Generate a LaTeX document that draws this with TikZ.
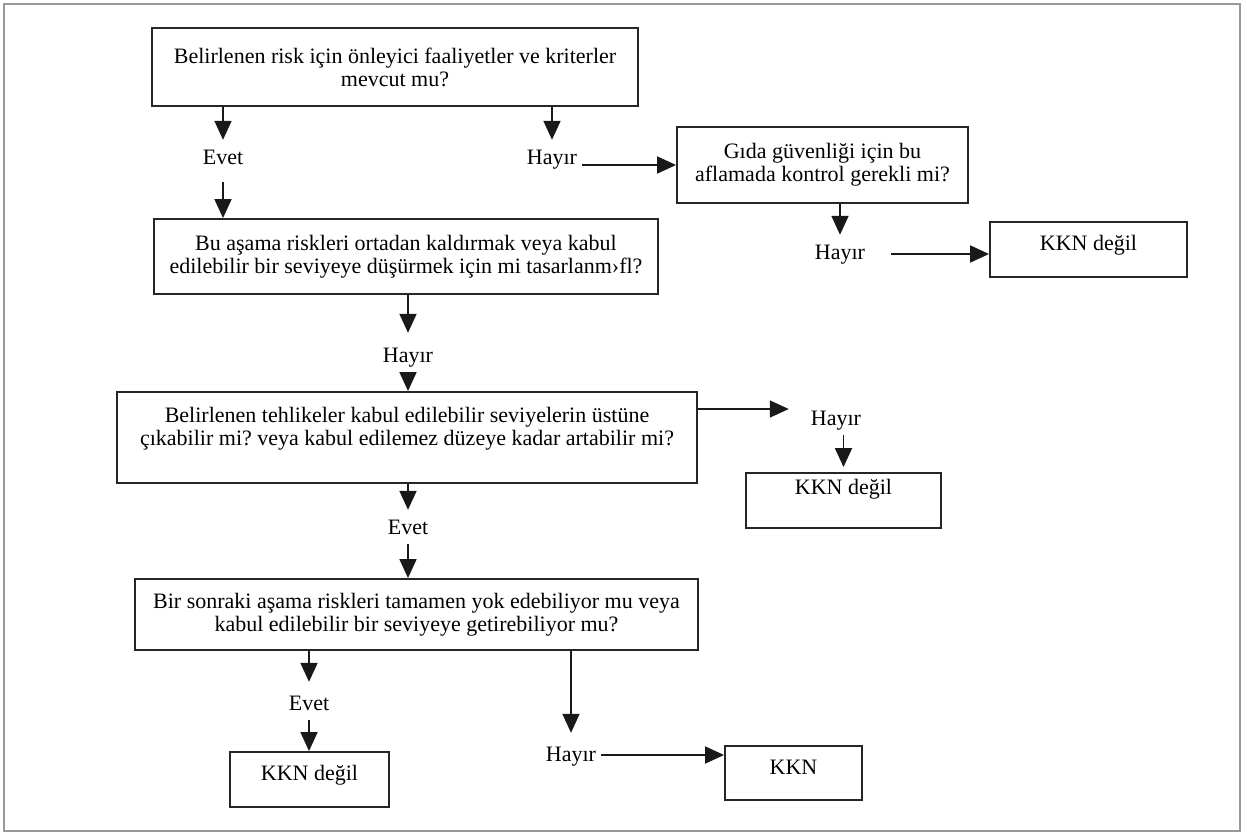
\documentclass[tikz,border=0pt]{standalone}
\usepackage{fontspec}
\setmainfont{Liberation Serif}
\usetikzlibrary{arrows.meta, calc}
\frenchspacing

\begin{document}
\begin{tikzpicture}[x=1pt,y=-1pt,font=\fontsize{22}{23}\selectfont,
        question/.style={draw=black!85,line width=1.9pt,align=center,inner sep=0pt},
        result/.style={draw=black!85,line width=1.9pt,inner sep=0pt,
                       text height=15pt,text depth=#1},
        result/.default=13pt,
        answer/.style={inner xsep=5pt,inner ysep=10pt,text height=14pt,text depth=0pt},
        flow/.style={-{Triangle[length=19pt,width=17pt]},line width=1.8pt,black!90}]
  \useasboundingbox (0,0) rectangle (1247,833);
  \draw[black!40,line width=1.5pt] (4,4) rectangle (1240,831);

  % questions
  \node[question,minimum width=486pt,minimum height=78pt] (q1) at (395,67)
    {Belirlenen risk için önleyici faaliyetler ve kriterler\\ mevcut mu?};
  \node[question,minimum width=291pt,minimum height=76pt] (q2) at (822.5,165)
    {Gıda güvenliği için bu\\ aflamada kontrol gerekli mi?};
  \node[question,minimum width=504pt,minimum height=75pt] (q3) at (406,256.5)
    {Bu aşama riskleri ortadan kaldırmak veya kabul\\ edilebilir bir seviyeye düşürmek için mi tasarlanm›fl?};
  \node[question,minimum width=580pt,minimum height=91pt] (q4) at (407,437.5)
    {Belirlenen tehlikeler kabul edilebilir seviyelerin üstüne\\ çıkabilir mi? veya kabul edilemez düzeye kadar artabilir mi?\\ \mbox{}};
  \node[question,minimum width=563pt,minimum height=71pt] (q5) at (416.5,614.5)
    {Bir sonraki aşama riskleri tamamen yok edebiliyor mu veya\\ kabul edilebilir bir seviyeye getirebiliyor mu?};

  % results
  \node[result=14pt,minimum width=197pt,minimum height=55pt] (n1) at (1088.5,249.5) {KKN değil};
  \node[result=27pt,minimum width=195pt,minimum height=55pt] (n2) at (843.5,500.5) {KKN değil};
  \node[result,minimum width=159pt,minimum height=55pt] (n3) at (309.5,779.5) {KKN değil};
  \node[result,minimum width=137pt,minimum height=54pt] (n4) at (793.5,773) {KKN};

  % answers
  \node[answer] (e1) at (223,157) {Evet};
  \node[answer] (h1) at (552,157) {Hayır};
  \node[answer] (h2) at (840,252) {Hayır};
  \node[answer] (h3) at (408,355) {Hayır};
  \node[answer] (h4) at (836,418) {Hayır};
  \node[answer] (e2) at (408,527) {Evet};
  \node[answer] (e3) at (309,703) {Evet};
  \node[answer] (h5) at (571,754) {Hayır};

  \draw[flow] (q1.south -| e1) -- (e1.north);
  \draw[flow,shorten <=8pt] (e1.south) -- (q3.north -| e1);
  \draw[flow] (q1.south -| h1) -- (h1.north);
  \draw[flow] ($(h1.east)+(0,8)$) -- ($(h1.east -| q2.west)+(0,8)$);
  \draw[flow] (q2.south -| h2) -- (h2.north);
  \draw[flow,shorten <=21pt] ($(h2.east)+(0,2)$) -- ($(h2.east -| n1.west)+(0,2)$);
  \draw[flow,shorten >=5pt] (q3.south -| h3) -- (h3.north);
  \draw[flow] (h3.south) -- (q4.north -| h3);
  \draw[flow,shorten >=17pt] ($(h4.west -| q4.east)+(0,-9)$) -- ($(h4.west)+(0,-9)$);
  \draw[flow,shorten >=5pt] (h4.south -| n2) -- (n2.north);
  \draw[flow] (q4.south -| e2) -- (e2.north);
  \draw[flow] (e2.south) -- (q5.north -| e2);
  \draw[flow,shorten >=4pt] (q5.south -| e3) -- (e3.north);
  \draw[flow] (e3.south) -- (n3.north -| e3);
  \draw[flow,shorten >=4pt] (q5.south -| h5) -- (h5.north);
  \draw[flow] ($(h5.east)+(0,1)$) -- ($(h5.east -| n4.west)+(0,1)$);
\end{tikzpicture}
\end{document}
